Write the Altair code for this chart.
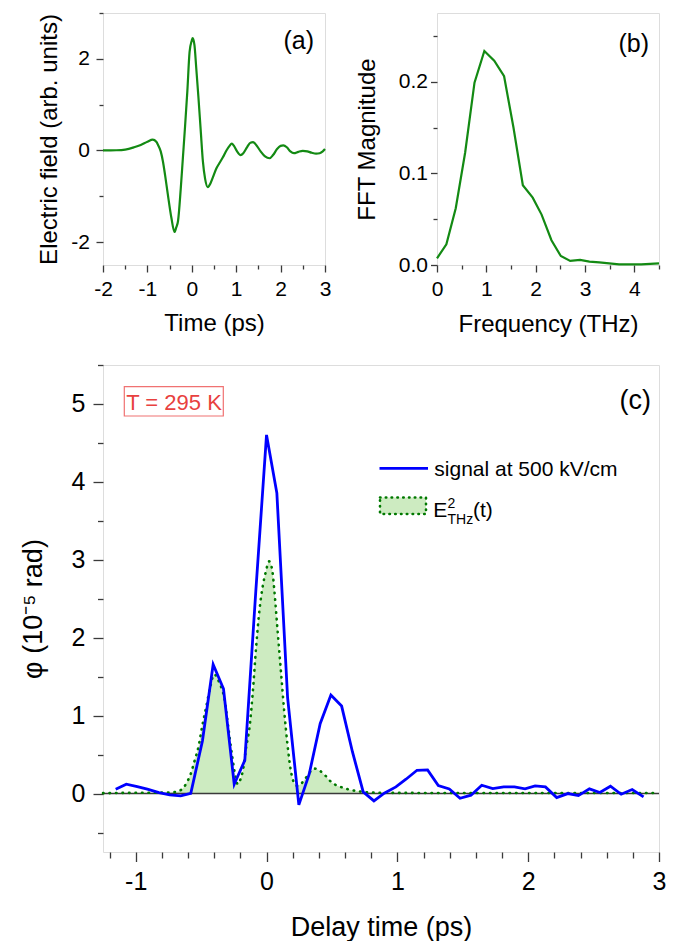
import altair as alt
import pandas as pd

FONT = "Liberation Sans"
AXIS_COLOR = "#3a3a3a"
GREEN = "#138a13"
BLUE = "#0000ff"
DOT_GREEN = "#007800"
FILL_GREEN = "#cdebc1"
RED = "#e8413f"

# ---------------- panel (a): THz electric field ----------------
a_time = [-2.0, -1.7, -1.5, -1.3, -1.15, -1.0, -0.88, -0.8, -0.76, -0.7, -0.65, -0.6,
          -0.54, -0.46, -0.39, -0.35, -0.31, -0.25, -0.2, -0.15, -0.1, -0.05, 0.0, 0.02,
          0.06, 0.1, 0.15, 0.2, 0.25, 0.3, 0.36, 0.42, 0.47, 0.55, 0.62, 0.7, 0.78, 0.85,
          0.9, 0.95, 1.02, 1.1, 1.16, 1.25, 1.32, 1.38, 1.45, 1.55, 1.65, 1.75, 1.83, 1.92,
          2.0, 2.06, 2.14, 2.22, 2.3, 2.4, 2.5, 2.6, 2.7, 2.8, 2.88, 2.95, 3.0]
a_field = [0.0, 0.005, 0.02, 0.07, 0.12, 0.19, 0.235, 0.19, 0.12, -0.02, -0.24, -0.55,
           -0.96, -1.47, -1.78, -1.68, -1.54, -0.85, -0.15, 0.55, 1.3, 2.15, 2.4, 2.45,
           2.3, 1.8, 1.15, 0.45, -0.24, -0.62, -0.8, -0.72, -0.6, -0.4, -0.28, -0.15, 0.0, 0.1,
           0.15, 0.1, -0.02, -0.1, -0.06, 0.08, 0.17, 0.18, 0.12, -0.02, -0.13, -0.17, -0.1, 0.03,
           0.1, 0.11, 0.07, -0.02, -0.06, -0.03, -0.01, -0.02, -0.05, -0.07, -0.06, -0.02, 0.03]

# ---------------- panel (b): FFT magnitude ----------------
b_freq = [0.0, 0.19, 0.38, 0.57, 0.76, 0.96, 1.16, 1.36, 1.55, 1.74, 1.94, 2.12, 2.32,
          2.51, 2.70, 2.90, 3.09, 3.29, 3.49, 3.69, 3.90, 4.14, 4.5]
b_mag = [0.0073, 0.0225, 0.062, 0.1225, 0.199, 0.2335, 0.223, 0.206, 0.15, 0.087, 0.0735,
         0.055, 0.027, 0.0098, 0.0044, 0.0055, 0.0036, 0.0029, 0.0018, 0.0007, 0.0007,
         0.0007, 0.0018]

# ---------------- panel (c): signal and E_THz^2 ----------------
c_sig_t = [-1.153, -1.072, -0.988, -0.911, -0.822, -0.740, -0.656, -0.579, -0.490, -0.408,
           -0.329, -0.247, -0.166, -0.082, 0.0, 0.079, 0.161, 0.247, 0.326, 0.41, 0.492,
           0.574, 0.657, 0.739, 0.821, 0.9, 0.989, 1.066, 1.15, 1.231, 1.313, 1.397, 1.479,
           1.563, 1.645, 1.729, 1.813, 1.895, 1.976, 2.053, 2.132, 2.218, 2.303, 2.384,
           2.468, 2.548, 2.629, 2.711, 2.795, 2.882]
c_sig_phi = [0.056, 0.12, 0.09, 0.056, 0.013, -0.017, -0.03, 0.004, 0.675, 1.657, 1.345,
             0.12, 0.427, 2.596, 4.603, 3.856, 1.23, -0.145, 0.248, 0.897, 1.264, 1.123,
             0.534, 0.021, -0.094, 0.004, 0.085, 0.184, 0.299, 0.303, 0.102, 0.06, -0.06,
             -0.021, 0.107, 0.064, 0.085, 0.085, 0.06, 0.098, 0.085, -0.051, 0.0, -0.026,
             0.06, 0.013, 0.094, -0.009, 0.051, -0.043]
c_e2_t = [-1.25, -1.0, -0.8, -0.7, -0.65, -0.61, -0.58, -0.55, -0.52, -0.49, -0.46, -0.43,
          -0.40, -0.36, -0.32, -0.29, -0.26, -0.235, -0.22, -0.2, -0.18, -0.155, -0.13,
          -0.105, -0.08, -0.055, -0.03, -0.005, 0.02, 0.045, 0.06, 0.085, 0.11, 0.135, 0.16,
          0.185, 0.21, 0.235, 0.26, 0.3, 0.34, 0.37, 0.41, 0.45, 0.5, 0.56, 0.62, 0.7, 0.78,
          0.9, 1.2, 1.6, 2.0, 2.5, 3.0]
c_e2_v = [0.005, 0.01, 0.012, 0.02, 0.05, 0.14, 0.25, 0.42, 0.6, 0.88, 1.12, 1.37,
          1.53, 1.42, 1.2, 0.82, 0.45, 0.2, 0.12, 0.18, 0.3, 0.6, 0.85,
          1.3, 1.87, 2.34, 2.65, 2.85, 2.98, 2.85, 2.6, 2.08, 1.57, 1.06, 0.63,
          0.3, 0.14, 0.1, 0.12, 0.2, 0.29, 0.32, 0.29, 0.23, 0.14, 0.09, 0.056, 0.03, 0.015,
          0.01, 0.008, 0.008, 0.008, 0.008, 0.008]

# ---------------- tick values ----------------
a_x_ticks = [-2, -1.5, -1, -0.5, 0, 0.5, 1, 1.5, 2, 2.5, 3]
a_y_ticks = [-2, -1, 0, 1, 2, 3]
b_x_ticks = [0, 0.5, 1, 1.5, 2, 2.5, 3, 3.5, 4, 4.5]
b_y_ticks = [0, 0.05, 0.1, 0.15, 0.2, 0.25]
c_x_ticks = [-1.2, -1.0, -0.8, -0.6, -0.4, -0.2, 0, 0.2, 0.4, 0.6, 0.8, 1.0, 1.2, 1.4,
             1.6, 1.8, 2.0, 2.2, 2.4, 2.6, 2.8, 3.0]
c_y_ticks = [-0.5, 0, 0.5, 1, 1.5, 2, 2.5, 3, 3.5, 4, 4.5, 5, 5.5]

INT_TEST = "abs(datum.value - round(datum.value)) < 1e-6"
EVEN_TEST = "abs(datum.value / 2 - round(datum.value / 2)) < 1e-6"
TENTH_TEST = "abs(datum.value * 10 - round(datum.value * 10)) < 1e-6"


def cond(test, major, minor):
    return {"condition": {"test": test, "value": major}, "value": minor}


def axis(values, title, test, label_expr, label_size, title_size, tick_major, tick_minor,
         pad, title_x=None, title_y=None):
    kw = dict(values=values, title=title, grid=False, domain=False, ticks=True,
              tickColor=AXIS_COLOR, tickWidth=1.3,
              tickSize=cond(test, tick_major, tick_minor),
              labelExpr=f"({test}) ? {label_expr} : ''",
              labelFontSize=cond(test, label_size, 0),
              labelFont=FONT, labelColor="black", labelPadding=pad,
              labelFlush=False, labelOverlap=False,
              titleFont=FONT, titleFontSize=title_size, titleFontWeight="normal",
              titleColor="black", titleBaseline="alphabetic")
    if title_x is not None:
        kw["titleX"] = title_x
    if title_y is not None:
        kw["titleY"] = title_y
    return alt.Axis(**kw)


def label_text(s, x, y, size, align="right", color="black", baseline="middle"):
    return alt.Chart(pd.DataFrame({"s": [s]})).mark_text(
        align=align, baseline=baseline, fontSize=size, font=FONT, color=color
    ).encode(x=alt.value(x), y=alt.value(y), text="s:N")


# ---------------- panel (a) ----------------
df_a = pd.DataFrame({"x": a_time, "y": a_field})
ax_a_x = axis(a_x_ticks, "Time (ps)", INT_TEST, "toString(datum.value)", 21, 24, 7, 4, 6.5,
              title_y=65)
ax_a_y = axis(a_y_ticks, "Electric field (arb. units)", EVEN_TEST, "toString(datum.value)",
              21, 24, 7, 4, 6.5, title_x=-47)
a_line = alt.Chart(df_a).mark_line(color=GREEN, strokeWidth=2.2, interpolate="monotone").encode(
    x=alt.X("x:Q", scale=alt.Scale(domain=[-2, 3], nice=False, zero=False), axis=ax_a_x),
    y=alt.Y("y:Q", scale=alt.Scale(domain=[-2.5, 3], nice=False, zero=False), axis=ax_a_y),
)
panel_a = alt.layer(a_line, label_text("(a)", 211, 28, 25)).properties(width=222, height=252)

# ---------------- panel (b) ----------------
df_b = pd.DataFrame({"x": b_freq, "y": b_mag})
ax_b_x = axis(b_x_ticks, "Frequency (THz)", INT_TEST, "toString(datum.value)", 21, 24, 7, 4,
              6.5, title_y=66)
ax_b_y = axis(b_y_ticks, "FFT Magnitude", TENTH_TEST, "format(datum.value, '.1f')", 21, 24,
              6.5, 4, 3, title_x=-62.5)
b_line = alt.Chart(df_b).mark_line(color=GREEN, strokeWidth=2.2).encode(
    x=alt.X("x:Q", scale=alt.Scale(domain=[0, 4.5], nice=False, zero=False), axis=ax_b_x),
    y=alt.Y("y:Q", scale=alt.Scale(domain=[0, 0.275], nice=False, zero=False), axis=ax_b_y),
)
panel_b = alt.layer(b_line, label_text("(b)", 212, 30.5, 25)).properties(width=222, height=252)

# ---------------- panel (c) ----------------
df_sig = pd.DataFrame({"x": c_sig_t, "y": c_sig_phi})
df_e2 = pd.DataFrame({"x": c_e2_t, "y": c_e2_v})
ax_c_x = axis(c_x_ticks, "Delay time (ps)", INT_TEST, "toString(datum.value)", 25, 27, 9.5, 6,
              8, title_y=83)
ax_c_y = axis(c_y_ticks, "\u03c6 (10\u207b\u2075 rad)", INT_TEST, "toString(datum.value)", 25,
              27, 10, 5.5, 8, title_x=-62)
c_xs = alt.Scale(domain=[-1.25, 3], nice=False, zero=False)
c_ys = alt.Scale(domain=[-0.75, 5.5], nice=False, zero=False)
X_C = alt.X("x:Q", scale=c_xs, axis=ax_c_x)
Y_C = alt.Y("y:Q", scale=c_ys, axis=ax_c_y)

c_area = alt.Chart(df_e2).mark_area(color=FILL_GREEN, opacity=1, interpolate="monotone").encode(
    x=X_C, y=Y_C)
c_zero = alt.Chart(pd.DataFrame({"y": [0]})).mark_rule(color=AXIS_COLOR, strokeWidth=1.6).encode(
    y=Y_C)
c_e2 = alt.Chart(df_e2).mark_line(color=DOT_GREEN, strokeWidth=2.6, strokeDash=[0.5, 6],
                                  strokeCap="round", interpolate="monotone").encode(x=X_C, y=Y_C)
c_sig = alt.Chart(df_sig).mark_line(color=BLUE, strokeWidth=2.8).encode(x=X_C, y=Y_C)

one = pd.DataFrame({"k": [0]})
leg_line = alt.Chart(one).mark_rule(color=BLUE, strokeWidth=2.8).encode(
    x=alt.value(276.5), x2=alt.value(325), y=alt.value(103.3))
leg_box = alt.Chart(one).mark_rect(fill=FILL_GREEN, stroke=DOT_GREEN, strokeWidth=2.6,
                                   strokeDash=[0.5, 5.3], strokeCap="round").encode(
    x=alt.value(277), x2=alt.value(323), y=alt.value(132.5), y2=alt.value(149))
temp_box = alt.Chart(one).mark_rect(fill="white", fillOpacity=0, stroke="#f07272",
                                    strokeWidth=1.2).encode(
    x=alt.value(21.3), x2=alt.value(120.3), y=alt.value(21.7), y2=alt.value(51))

panel_c = alt.layer(
    c_area, c_zero, c_e2, c_sig,
    leg_line,
    label_text("signal at 500 kV/cm", 331.3, 111, 21, align="left", baseline="alphabetic"),
    leg_box,
    label_text("E", 330.3, 151.5, 21, align="left", baseline="alphabetic"),
    label_text("2", 344.5, 142.5, 14, align="left", baseline="alphabetic"),
    label_text("THz", 344.5, 159, 14, align="left", baseline="alphabetic"),
    label_text("(t)", 370, 152, 21, align="left", baseline="alphabetic"),
    temp_box,
    label_text("T = 295 K", 71, 44.5, 22, align="center", color=RED, baseline="alphabetic"),
    label_text("(c)", 548, 36, 27),
).properties(width=556, height=487)

# the nested top row counts as zero height in a flush layout, so the spacing
# is the distance from the top of row 1 to the top of panel (c)
top_row = alt.hconcat(panel_a, panel_b, spacing=112, bounds="flush")
chart = alt.vconcat(top_row, panel_c, spacing=352, bounds="flush").properties(
    padding={"left": 10, "top": 3, "right": 5, "bottom": 0}
).configure_view(stroke=AXIS_COLOR, strokeWidth=1.5).configure(font=FONT)

chart.save("out.html", embed_options={"renderer": "svg", "actions": False})
